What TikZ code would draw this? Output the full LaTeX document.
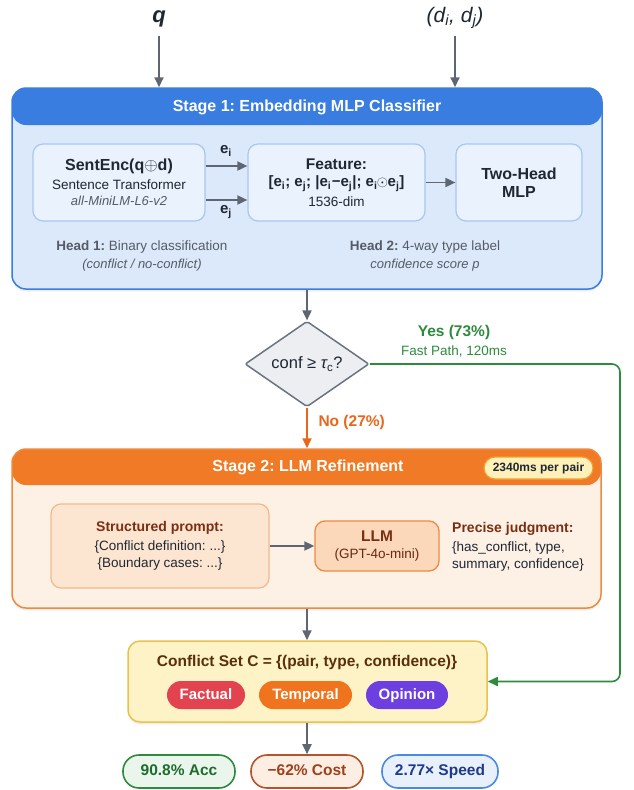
\documentclass[tikz,border=0pt]{standalone}
\usepackage{fontspec}
\setmainfont{Liberation Sans}
\usetikzlibrary{arrows.meta,shapes.geometric,calc,shadows}
\frenchspacing
\definecolor{txt}{HTML}{1F2733}
\definecolor{graytxt}{HTML}{555C66}
\definecolor{arrgray}{HTML}{5F6673}
\definecolor{bluehead}{HTML}{3A7DE0}
\definecolor{bluebody}{HTML}{DCE9FA}
\definecolor{blueinner}{HTML}{E9F2FD}
\definecolor{blueinbd}{HTML}{A8C8F2}
\definecolor{orhead}{HTML}{F07A26}
\definecolor{orbody}{HTML}{FDF1E6}
\definecolor{orbd}{HTML}{EE8A3E}
\definecolor{orinner}{HTML}{FCE6D2}
\definecolor{orinbd}{HTML}{F3B98A}
\definecolor{llmfill}{HTML}{FCD8BA}
\definecolor{brown}{HTML}{7A2E12}
\definecolor{gline}{HTML}{2E8B3E}
\definecolor{noor}{HTML}{E8671A}
\definecolor{csfill}{HTML}{FDF3C6}
\definecolor{csbd}{HTML}{E8C24A}
\definecolor{cstxt}{HTML}{5A2E0E}
\definecolor{badgefill}{HTML}{FDF0B8}
\definecolor{pillred}{HTML}{E3434F}
\definecolor{pillor}{HTML}{F0741E}
\definecolor{pillpur}{HTML}{6D3FE0}
\definecolor{accbd}{HTML}{2E8B3E}
\definecolor{accfill}{HTML}{EAF6EC}
\definecolor{acctxt}{HTML}{1E6B2E}
\definecolor{costbd}{HTML}{B5532A}
\definecolor{costfill}{HTML}{FDEEE4}
\definecolor{costtxt}{HTML}{A0401A}
\definecolor{spbd}{HTML}{4A8AE0}
\definecolor{spfill}{HTML}{E8F0FC}
\definecolor{sptxt}{HTML}{1E3A8A}
\definecolor{diafill}{HTML}{ECEEF1}
\definecolor{diabd}{HTML}{6B7280}
\newcommand{\fs}[1]{\fontsize{#1}{#1}\selectfont}
\tikzset{
  arr/.style={-{Triangle[length=10pt,width=9pt]}, line width=1.8pt, draw=arrgray},
  shad/.style={drop shadow={opacity=0.12, shadow xshift=0pt, shadow yshift=-2.5pt}},
  inbox/.style={draw=blueinbd, fill=blueinner, line width=1.2pt, rounded corners=10pt, align=center, text=txt, inner sep=0pt},
  pill/.style={rounded corners=14pt, minimum height=28pt, inner sep=0pt, text height=11pt, text depth=3pt, text=white, font=\bfseries\fs{15}},
  res/.style={rounded corners=16pt, minimum height=33pt, minimum width=112pt, inner sep=0pt, text height=11.5pt, text depth=3pt, line width=1.6pt, font=\bfseries\fs{15.5}},
}
\begin{document}
\begin{tikzpicture}[x=1pt,y=-1pt]
\useasboundingbox[fill=white] (0,0) rectangle (634,790);

% inputs
\node[font=\bfseries\itshape\fs{22}, text=txt] (q) at (159,19) {q};
\node[font=\itshape\fs{21}, text=txt] (d) at (455,18) {(d\textsubscript{i}, d\textsubscript{j})};

% Stage 1
\node[shad, draw=bluehead, fill=bluebody, line width=1.5pt, rounded corners=14pt,
      minimum width=590pt, minimum height=201pt, inner sep=0pt,
      path picture={\fill[bluehead] (path picture bounding box.north west) rectangle ([yshift=-37pt]path picture bounding box.north east);}]
      (s1) at (307,188.5) {};
\node[text=white, font=\bfseries\fs{16}] (s1t) at (307,107) {Stage 1: Embedding MLP Classifier};

\coordinate (qs) at (159,36);
\coordinate (ds) at (455,36);
\draw[arr] (qs) -- (qs |- s1.north);
\draw[arr] (ds) -- (ds |- s1.north);

\node[inbox, minimum width=172pt, minimum height=77pt] (enc) at (119,182.5)
  {{\bfseries\fs{16}SentEnc(q$\oplus$d)}\\[5pt]{\fs{13.5}Sentence Transformer}\\[4pt]{\itshape\fs{13}\color{graytxt}all-MiniLM-L6-v2}};
\node[inbox, minimum width=177pt, minimum height=77pt] (feat) at (336.5,182.5)
  {{\bfseries\fs{15.5}Feature:}\\[5pt]{\bfseries\fs{15}[e\textsubscript{i}; e\textsubscript{j}; |e\textsubscript{i}\kern0.5pt−e\textsubscript{j}|; e\textsubscript{i}\kern-0.5pt$\odot$\kern-0.5pt e\textsubscript{j}]}\\[4pt]{\fs{13.5}1536-dim}};
\node[inbox, minimum width=126pt, minimum height=77pt] (mlp) at (519,182.5)
  {{\bfseries\fs{16}Two-Head}\\[6pt]{\bfseries\fs{16}MLP}};

\draw[arr] ([yshift=16.5pt]enc.east) -- ([yshift=16.5pt]feat.west);
\draw[arr] ([yshift=-17.5pt]enc.east) -- ([yshift=-17.5pt]feat.west);
\node[font=\bfseries\fs{15}, text=txt] (ei) at (226,151) {e\textsubscript{i}};
\node[font=\bfseries\fs{15}, text=txt] (ej) at (226,212) {e\textsubscript{j}};
\draw[arr] (feat) -- (mlp);

\node[align=center, text=graytxt, font=\fs{13.5}] (h1) at (142,256)
  {\textbf{Head 1:} Binary classification\\[4pt]{\itshape\fs{13}(conflict / no-conflict)}};
\node[align=center, text=graytxt, font=\fs{13.5}] (h2) at (425,256)
  {\textbf{Head 2:} 4-way type label\\[4pt]{\itshape\fs{13}confidence score p}};

% decision
\node[diamond, draw=diabd, fill=diafill, line width=1.5pt, minimum width=124pt, minimum height=82pt, inner sep=0pt, font=\fs{16.5}, text=txt, rounded corners=2pt]
  (dia) at (307,364) {conf ≥ {\itshape τ}\textsubscript{c}?};
\draw[arr] (s1.south) -- (dia.north);

\node[font=\bfseries\fs{15.5}, text=gline] (yes) at (454,332) {Yes (73\%)};
\node[font=\fs{13.5}, text=gline] (fast) at (454,351) {Fast Path, 120ms};

% Stage 2
\node[shad, draw=orbd, fill=orbody, line width=1.5pt, rounded corners=14pt,
      minimum width=589pt, minimum height=159pt, inner sep=0pt,
      path picture={\fill[orhead] (path picture bounding box.north west) rectangle ([yshift=-36pt]path picture bounding box.north east);}]
      (s2) at (306.5,528.5) {};
\node[text=white, font=\bfseries\fs{16}] (s2t) at (308,467) {Stage 2: LLM Refinement};
\node[draw=orbd!80!yellow, fill=badgefill, line width=1.2pt, rounded corners=11pt, minimum width=109pt, minimum height=22pt, inner sep=0pt, font=\bfseries\fs{12}, text=txt] (bdg) at (538.5,468) {2340ms per pair};

\draw[-{Triangle[length=10pt,width=9pt]}, line width=2pt, draw=noor] (dia.south) -- (dia.south |- s2.north);
\node[anchor=west, font=\bfseries\fs{15.5}, text=noor] (no) at (315,422) {No (27\%)};

\node[draw=orinbd, fill=orinner, line width=1.2pt, rounded corners=10pt, minimum width=218pt, minimum height=84pt, inner sep=0pt, align=center, text=txt]
  (sp) at (160,546) {{\bfseries\fs{14}\color{brown}Structured prompt:}\\[5pt]{\fs{13.5}\{Conflict definition: ...\}}\\[4pt]{\fs{13.5}\{Boundary cases: ...\}}};
\node[draw=orbd, fill=llmfill, line width=1.3pt, rounded corners=10pt, minimum width=124pt, minimum height=50pt, inner sep=0pt, align=center]
  (llm) at (377,546) {{\bfseries\fs{15.5}\color{brown}LLM}\\[5pt]{\fs{13.5}\color{brown!85!black}(GPT-4o-mini)}};
\draw[arr] (sp) -- (llm);
\node[anchor=west, align=left, text=txt, inner sep=0pt] (pj) at (452,547)
  {{\bfseries\fs{14}\color{brown}Precise judgment:}\\[5pt]{\fs{13.5}\{has\_conflict, type,}\\[4pt]{\fs{13.5}summary, confidence\}}};

% conflict set
\node[shad, draw=csbd, fill=csfill, line width=1.5pt, rounded corners=12pt, minimum width=359pt, minimum height=81pt, inner sep=0pt] (cs) at (307.5,681.5) {};
\draw[arr] (s2.south -| dia.south) -- (cs.north -| dia.south);
\node[font=\bfseries\fs{15.5}, text=cstxt] (cst) at (307,662) {Conflict Set C = \{(pair, type, confidence)\}};
\node[pill, fill=pillred, minimum width=78pt] (fac) at (206,695) {Factual};
\node[pill, fill=pillor, minimum width=93pt] (tem) at (305.5,695) {Temporal};
\node[pill, fill=pillpur, minimum width=82pt] (opi) at (407,695) {Opinion};

\coordinate (gturn) at (620,681.5);
\draw[-{Triangle[length=10pt,width=9pt]}, line width=1.6pt, draw=gline, rounded corners=8pt] (dia.east) -| (gturn) -- (cs.east);

% results
\node[res, draw=accbd, fill=accfill, text=acctxt] (acc) at (179,771.5) {90.8\% Acc};
\node[res, draw=costbd, fill=costfill, text=costtxt] (cost) at (307,771.5) {−62\% Cost};
\node[res, draw=spbd, fill=spfill, text=sptxt, minimum width=116pt] (spd) at (440,771.5) {2.77× Speed};
\draw[arr] (cs.south -| cost.north) -- (cost.north);
\end{tikzpicture}
\end{document}
